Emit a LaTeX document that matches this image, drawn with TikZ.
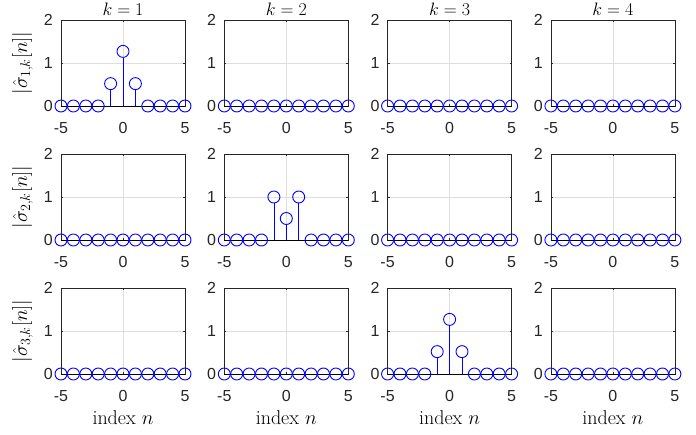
\RequirePackage{fix-cm}
\documentclass[tikz,border=0pt]{standalone}
\usepackage{fontspec}
\usepackage{tikz}
\newfontfamily\axfont{Liberation Sans}
\definecolor{axgray}{gray}{0.15}
\definecolor{gridgray}{gray}{0.87}
\definecolor{stemblue}{rgb}{0,0,1}

\tikzset{
  gridline/.style={gridgray, line width=0.6pt},
  axisbox/.style={axgray, line width=0.8pt},
  stembase/.style={black, line width=0.8pt},
  stemline/.style={stemblue, line width=0.8pt},
  stemdot/.style={circle, draw=stemblue, line width=0.9pt, inner sep=0pt, minimum size=12pt},
  ticklabel/.style={inner sep=0pt, axgray, font=\axfont\fontsize{16}{18}\selectfont},
  titlelabel/.style={inner sep=0pt, font=\fontsize{18}{20}\selectfont},
  axlabel/.style={inner sep=0pt, font=\fontsize{20}{24}\selectfont},
}

\begin{document}
\begin{tikzpicture}
  \useasboundingbox (0,0) rectangle (696pt,434pt);
  \foreach \r in {0,1,2}{
    \foreach \c in {0,1,2,3}{
      \pgfmathsetmacro\xo{123+163.3*\c}
      \pgfmathsetmacro\yo{328-134*\r}
      \pgfmathtruncatemacro\rr{\r+1}
      \pgfmathtruncatemacro\cc{\c+1}
      \begin{scope}[shift={(\xo pt,\yo pt)}, x=12.4pt, y=43pt]
        % grid and box
        \draw[gridline] (0,0) -- (0,2);
        \draw[gridline] (-5,1) -- (5,1);
        \draw[axisbox] (-5,0) rectangle (5,2);
        \draw[axisbox] (0,0) -- ++(0,2pt) (0,2) -- ++(0,-2pt)
                       (-5,1) -- ++(2pt,0) (5,1) -- ++(-2pt,0);
        \foreach \t in {-5,0,5}
          \node[ticklabel, anchor=north] (xt\r\c\t) at ([yshift=-16pt]\t,0) {\t};
        \foreach \t in {0,1,2}
          \node[ticklabel, anchor=east] (yt\r\c\t) at ([xshift=-8pt]-5,\t) {\t};
        % labels
        \ifnum\r=0
          \node[titlelabel, anchor=base] (ti\c) at ([yshift=4pt]0,2) {$k=\cc$};
        \fi
        \ifnum\c=0
          \node[axlabel, rotate=90, anchor=base] (yl\r) at ([xshift=-34pt]-5,1)
            {$|\hat{\sigma}_{\rr,k}[n]|$};
        \fi
        \ifnum\r=2
          \node[axlabel, anchor=base] (xl\c) at ([yshift=-50pt]0,0) {index $n$};
        \fi
        % stems
        \draw[stembase] (-5,0) -- (5,0);
        \foreach \n in {-5,-4,-3,-2,2,3,4,5}
          \node[stemdot] (m\r\c\n) at (\n,0) {};
        \ifnum\r=\c\relax
          \ifnum\r=1 \def\stemvals{-1/1,0/0.5,1/1}\else\def\stemvals{-1/0.52,0/1.27,1/0.52}\fi
          \foreach \n/\v in \stemvals{
            \coordinate (s\r\c\n) at (\n,0);
            \node[stemdot] (m\r\c\n) at (\n,\v) {};
            \draw[stemline] (s\r\c\n) -- (m\r\c\n.south);
          }
        \else
          \foreach \n in {-1,0,1}
            \node[stemdot] (m\r\c\n) at (\n,0) {};
        \fi
      \end{scope}
    }
  }
\end{tikzpicture}
\end{document}
